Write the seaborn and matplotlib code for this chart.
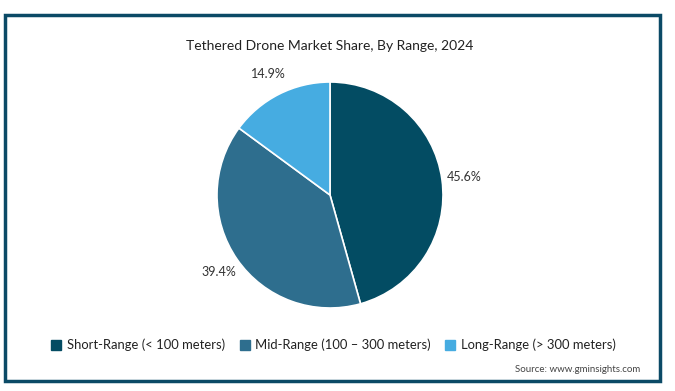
import seaborn as sns
import matplotlib.pyplot as plt
from matplotlib.patches import Rectangle

categories = ["Short-Range (< 100 meters)", "Mid-Range (100 – 300 meters)", "Long-Range (> 300 meters)"]
shares = [45.6, 39.4, 14.9]
colors = ["#034c63", "#2e6e8e", "#46ace1"]

sns.set_theme(style="white")
plt.rcParams["font.family"] = ["Lato", "DejaVu Sans"]

fig = plt.figure(figsize=(6.75, 3.91), dpi=100)
ax = fig.add_axes([330/675 - 113/675, 1 - (195 + 113)/391, 226/675, 226/391])

wedges, texts, autotexts = ax.pie(
    shares, colors=colors, startangle=90, counterclock=False,
    autopct="%.1f%%", pctdistance=1.2,
    wedgeprops=dict(edgecolor="white", linewidth=1.2),
    textprops=dict(fontsize=9, color="#333333"),
)
ax.set_xlim(-1, 1)
ax.set_ylim(-1, 1)
ax.set_aspect("equal")

fig.text(330/675, 1 - 46/391, "Tethered Drone Market Share, By Range, 2024",
         ha="center", va="center", fontsize=10, color="#222222")

handles = [plt.Line2D([], [], marker="s", linestyle="", markersize=6.5, color=c) for c in colors]
fig.legend(handles, categories, loc="center", bbox_to_anchor=(332/675, 1 - 345/391),
           ncol=3, frameon=False, fontsize=9.4, handletextpad=0.2, columnspacing=0.9,
           handlelength=1.2, labelcolor="#222222")

fig.text(640/675, 1 - 370/391, "Source: www.gminsights.com", ha="right", va="center",
         fontsize=7, color="#444444")

fig.patches.append(Rectangle((5/675, 1 - 381/391), 655/675, 366/391, transform=fig.transFigure,
                             fill=False, edgecolor="#0b4a66", linewidth=2.5))

fig.savefig("out.png", dpi=100, facecolor="white")
